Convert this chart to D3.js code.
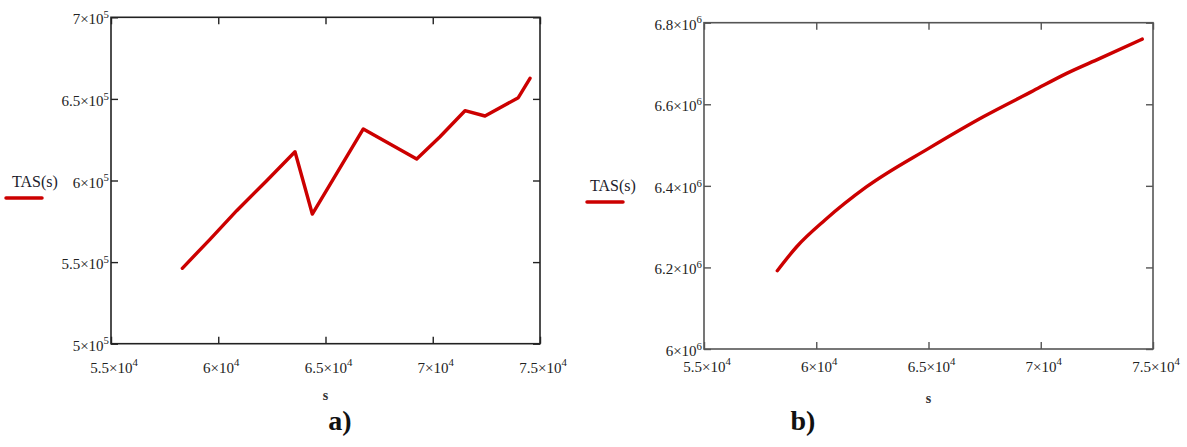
<!DOCTYPE html>
<html>
<head>
<meta charset="utf-8">
<script src="https://cdn.jsdelivr.net/npm/d3@7"></script>
<style>
  html, body { margin: 0; padding: 0; background: #fff; }
  svg { display: block; }
</style>
</head>
<body>
<svg id="chart" width="1187" height="447"></svg>
<script>
// Panel a): TAS(s) with piecewise behaviour
const sA = [58324, 59615, 60860, 62212, 63578, 64385, 66762, 69252, 70338, 71503, 72436, 73988, 74534];
const tasA = [546200, 563970, 581500, 599265, 617650, 579470, 631560, 613170, 626840, 642770, 639520, 650740, 662620];

// Panel b): smooth TAS(s)
const sB = [58265, 59129, 60390, 62247, 65009, 67441, 69668, 71156, 72639, 74523];
const tasB = [6191900, 6250700, 6316200, 6397800, 6491900, 6569400, 6633100, 6675700, 6712500, 6759800];

// Axis ranges and tick values
const xDomain = [55000, 75000];
const xTicks = [55000, 60000, 65000, 70000, 75000];
const yDomainA = [500000, 700000];
const yTicksA = [500000, 550000, 600000, 650000, 700000];
const yDomainB = [6000000, 6800000];
const yTicksB = [6000000, 6200000, 6400000, 6600000, 6800000];

const seriesName = "TAS(s)";
const xName = "s";
const panelTags = ["a)", "b)"];

const SERIF = "'Liberation Serif', 'Times New Roman', Times, serif";
const svg = d3.select("#chart").style("font-family", SERIF);

// Writes a value as "m×10^e" with a raised exponent
function sciLabel(sel, v, exp, fs) {
  const m = d3.format("~g")(v / Math.pow(10, exp));
  sel.style("font-size", fs + "px").style("font-family", SERIF);
  sel.append("tspan").text(m + "\u00d710");
  sel.append("tspan").attr("dy", -fs * 0.42).style("font-size", (fs * 0.72) + "px").text(exp);
}

function panel(cfg) {
  const x = d3.scaleLinear().domain(xDomain).range([cfg.left, cfg.right]);
  const y = d3.scaleLinear().domain(cfg.yDomain).range([cfg.bottom, cfg.top]);
  const g = svg.append("g");
  const tick = 7;

  // ticks on all four sides, pointing inward
  g.append("g").attr("transform", `translate(0,${cfg.bottom})`)
    .call(d3.axisBottom(x).tickValues(xTicks).tickSize(-tick).tickSizeOuter(0).tickFormat(""));
  g.append("g").attr("transform", `translate(0,${cfg.top})`)
    .call(d3.axisTop(x).tickValues(xTicks).tickSize(-tick).tickSizeOuter(0).tickFormat(""));
  g.append("g").attr("transform", `translate(${cfg.left},0)`)
    .call(d3.axisLeft(y).tickValues(cfg.yTicks).tickSize(-tick).tickSizeOuter(0).tickFormat(""));
  g.append("g").attr("transform", `translate(${cfg.right},0)`)
    .call(d3.axisRight(y).tickValues(cfg.yTicks).tickSize(-tick).tickSizeOuter(0).tickFormat(""));
  g.selectAll(".domain").remove();
  g.selectAll(".tick text").remove();
  g.selectAll(".tick line").attr("stroke", cfg.frame).attr("stroke-width", 1.4);

  // plot frame
  g.append("rect")
    .attr("x", cfg.left).attr("y", cfg.top)
    .attr("width", cfg.right - cfg.left).attr("height", cfg.bottom - cfg.top)
    .attr("fill", "none").attr("stroke", cfg.frame).attr("stroke-width", 1.6);

  const labels = g.append("g");

  // y tick labels
  cfg.yTicks.forEach(v => {
    const t = labels.append("text")
      .attr("x", cfg.left - 2).attr("y", y(v) + cfg.yLabDy)
      .attr("text-anchor", "end").attr("fill", "#222");
    sciLabel(t, v, cfg.yExp, cfg.yFs);
  });

  // x tick labels
  xTicks.forEach(v => {
    const t = labels.append("text")
      .attr("x", x(v) + 3).attr("y", cfg.bottom + cfg.xLabDy)
      .attr("text-anchor", "middle").attr("fill", "#222");
    sciLabel(t, v, 4, cfg.xFs);
  });

  // x axis name
  labels.append("text").attr("x", (cfg.left + cfg.right) / 2).attr("y", cfg.xNameY)
    .attr("text-anchor", "middle").style("font-size", "14px").attr("font-weight", "bold")
    .attr("fill", "#333").text(xName);

  // series legend at the left of the plot
  labels.append("text").attr("x", cfg.legX).attr("y", cfg.legY)
    .style("font-size", "16px").attr("fill", "#1c1c2c").text(seriesName);
  g.append("line")
    .attr("x1", cfg.legLineX).attr("x2", cfg.legLineX + 36)
    .attr("y1", cfg.legY + 11).attr("y2", cfg.legY + 11)
    .attr("stroke", "#cc0000").attr("stroke-width", 3.5).attr("stroke-linecap", "round");

  // the series line
  const line = d3.line().x(d => x(d[0])).y(d => y(d[1])).curve(cfg.curve);
  g.append("path")
    .datum(d3.zip(cfg.s, cfg.v))
    .attr("d", line)
    .attr("fill", "none").attr("stroke", "#cc0000").attr("stroke-width", 3.4)
    .attr("stroke-linejoin", "round").attr("stroke-linecap", "round");

  // panel tag
  labels.append("text").attr("x", cfg.tagX).attr("y", 430)
    .attr("text-anchor", "middle").style("font-size", "28px").attr("font-weight", "bold")
    .attr("fill", "#111").text(cfg.tag);
}

panel({
  left: 111, right: 540, top: 17.3, bottom: 343.7,
  yDomain: yDomainA, yTicks: yTicksA, yExp: 5,
  s: sA, v: tasA, curve: d3.curveLinear,
  frame: "#222", yFs: 15, xFs: 15, yLabDy: 7, xLabDy: 29, xNameY: 400,
  legX: 12, legY: 187, legLineX: 6,
  tag: panelTags[0], tagX: 340
});

panel({
  left: 704, right: 1153, top: 22.7, bottom: 349,
  yDomain: yDomainB, yTicks: yTicksB, yExp: 6,
  s: sB, v: tasB, curve: d3.curveMonotoneX,
  frame: "#555", yFs: 15, xFs: 15, yLabDy: 7, xLabDy: 22.5, xNameY: 403,
  legX: 590, legY: 191, legLineX: 587,
  tag: panelTags[1], tagX: 803
});
</script>
</body>
</html>
